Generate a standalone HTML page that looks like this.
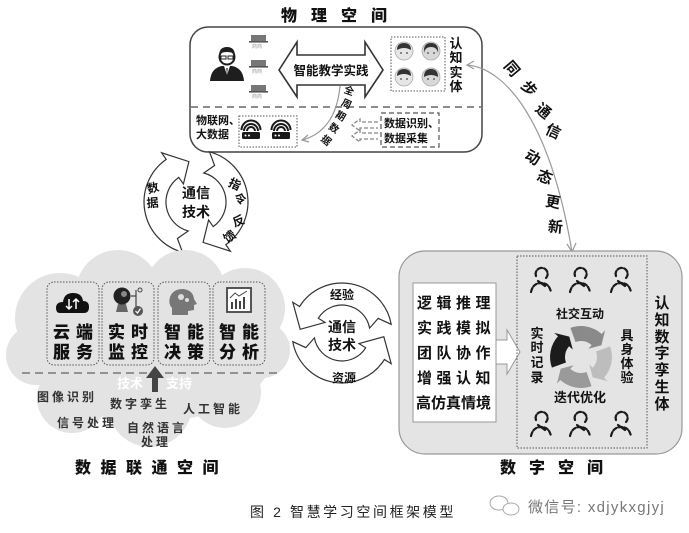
<!DOCTYPE html>
<html><head><meta charset="utf-8"><style>
html,body{margin:0;padding:0;background:#fff;}
svg{display:block;}
text{font-family:"Liberation Sans","Noto Sans CJK SC",sans-serif;}
.b{font-weight:bold;}
</style></head><body>
<svg width="689" height="533" viewBox="0 0 689 533" xmlns="http://www.w3.org/2000/svg">
<rect width="689" height="533" fill="#fff"/>

<!-- ===== Physical space ===== -->
<text x="281" y="21" font-size="16" font-weight="900" letter-spacing="14" fill="#111">物理空间</text>
<rect x="190" y="27" width="292" height="125" rx="18" fill="#fff" stroke="#444" stroke-width="1.5"/>
<line x1="191" y1="107" x2="481" y2="107" stroke="#666" stroke-width="1.5" stroke-dasharray="7 5"/>

<!-- teacher -->
<path d="M210,81 Q211,68 222,66 L232,66 Q243,68 244,81 Z" fill="#1e1e1e"/>
<path d="M224,66 L227,75 L230,66 Z" fill="#fff"/>
<path d="M226.3,68 L227,76 L227.7,68 Z" fill="#1e1e1e"/>
<circle cx="227" cy="57" r="7.5" fill="#fff" stroke="#1e1e1e" stroke-width="2"/>
<path d="M219,56 Q219,47 227,47 Q235,47 235,56 L233,53 Q227,51 221,53 Z" fill="#1e1e1e"/>
<rect x="221" y="56" width="5" height="3" fill="none" stroke="#1e1e1e" stroke-width="1"/>
<rect x="228" y="56" width="5" height="3" fill="none" stroke="#1e1e1e" stroke-width="1"/>
<!-- laptops -->
<g fill="#777">
<rect x="251" y="35" width="15" height="6"/><rect x="249" y="41" width="19" height="1.6" fill="#555"/>
<rect x="251" y="60" width="15" height="6"/><rect x="249" y="66" width="19" height="1.6" fill="#555"/>
<rect x="251" y="85" width="15" height="6"/><rect x="249" y="91" width="19" height="1.6" fill="#555"/>
</g>
<g font-size="5" fill="#999"><text x="252" y="48">商商</text><text x="252" y="73">商商</text><text x="252" y="98">商商</text></g>

<!-- double arrow -->
<polygon points="279,70 297,42 297,55 365,55 365,42 383,70 365,97 365,85 297,85 297,97" fill="#fff" stroke="#333" stroke-width="1.6"/>
<text x="331" y="75" font-size="12.5" class="b" text-anchor="middle" fill="#111">智能教学实践</text>

<!-- faces -->
<rect x="391" y="37" width="54" height="54" fill="none" stroke="#555" stroke-width="1" stroke-dasharray="1.5 1.5"/>
<g stroke="#aaa" stroke-width="0.8">
<circle cx="404" cy="51" r="9" fill="#e6e6e6"/><circle cx="431" cy="51" r="9" fill="#d8d8d8"/>
<circle cx="404" cy="77" r="9" fill="#e6e6e6"/><circle cx="431" cy="77" r="9" fill="#d8d8d8"/>
</g>
<g fill="#333">
<path d="M397,50 Q397,43 404,43 Q411,43 411,50 Q404,46 397,50 Z"/>
<path d="M424,53 Q423,43 431,43 Q439,43 438,53 Q437,47 431,47 Q425,47 424,53 Z"/>
<path d="M397,76 Q397,69 404,69 Q411,69 411,76 Q404,72 397,76 Z"/>
<path d="M424,77 Q424,69 431,69 Q438,69 438,77 Q431,73 424,77 Z"/>
</g>
<g fill="#444"><circle cx="401" cy="53" r="0.9"/><circle cx="407" cy="53" r="0.9"/><circle cx="428" cy="53" r="0.9"/><circle cx="434" cy="53" r="0.9"/><circle cx="401" cy="79" r="0.9"/><circle cx="407" cy="79" r="0.9"/><circle cx="428" cy="79" r="0.9"/><circle cx="434" cy="79" r="0.9"/></g>
<g font-size="13" class="b" fill="#111" text-anchor="middle">
<text x="456" y="48">认</text><text x="456" y="62">知</text><text x="456" y="77">实</text><text x="456" y="91">体</text>
</g>

<!-- lower physical -->
<g font-size="11" class="b" fill="#111"><text x="196" y="124">物联网、</text><text x="196" y="138">大数据</text></g>
<rect x="239" y="116" width="58" height="31" fill="none" stroke="#555" stroke-width="1" stroke-dasharray="1.5 1.5"/>
<g fill="#1a1a1a">
<rect x="242" y="132" width="18" height="7" rx="1.5"/><rect x="272" y="132" width="18" height="7" rx="1.5"/>
</g>
<g fill="#fff"><circle cx="245.5" cy="135.5" r="1"/><circle cx="249" cy="135.5" r="1"/><circle cx="275.5" cy="135.5" r="1"/><circle cx="279" cy="135.5" r="1"/></g>
<g fill="none" stroke="#1a1a1a" stroke-width="2">
<path d="M247,131 A4,4 0 0 1 255,131"/><path d="M244,131 A7,7 0 0 1 258,131"/><path d="M241.5,130 A9.5,9.5 0 0 1 260.5,130"/>
<path d="M277,131 A4,4 0 0 1 285,131"/><path d="M274,131 A7,7 0 0 1 288,131"/><path d="M271.5,130 A9.5,9.5 0 0 1 290.5,130"/>
</g>
<rect x="381" y="113" width="58" height="34" fill="none" stroke="#555" stroke-width="1.2" stroke-dasharray="5 3"/>
<g font-size="11" class="b" fill="#111"><text x="384" y="127">数据识别、</text><text x="384" y="142">数据采集</text></g>
<g fill="none" stroke="#888" stroke-width="1.3">
<path d="M378,122 L360,122 L360,119 L352,125 L360,131 L360,128 L378,128" stroke-dasharray="4 2"/>
<path d="M378,133 L360,133 L360,130 L352,136 L360,142 L360,139 L378,139" stroke-dasharray="4 2"/>
</g>
<!-- full cycle data arrow -->
<path d="M340,86 Q336,130 303,140" fill="none" stroke="#999" stroke-width="1.2"/>
<polyline points="308,135 302,140 309,142" fill="none" stroke="#999" stroke-width="1.2"/>
<g font-size="10" class="b" fill="#111" text-anchor="middle">
<text transform="translate(348,94) rotate(20)">全</text>
<text transform="translate(345,107) rotate(25)">周</text>
<text transform="translate(339,119) rotate(30)">期</text>
<text transform="translate(332,131) rotate(35)">数</text>
<text transform="translate(324,143) rotate(40)">据</text>
</g>

<!-- sync arrow -->
<path d="M467,65 C505,68 550,120 572,252" fill="none" stroke="#999" stroke-width="1.2"/>
<polyline points="474,61 467,65 474,69" fill="none" stroke="#999" stroke-width="1.2"/>
<polyline points="567,244 572,252 576,243" fill="none" stroke="#999" stroke-width="1.2"/>
<g font-size="15" class="b" fill="#111" text-anchor="middle">
<text transform="translate(508,72) rotate(50)">同</text>
<text transform="translate(525,92) rotate(50)">步</text>
<text transform="translate(540,115) rotate(40)">通</text>
<text transform="translate(551,136) rotate(25)">信</text>
<text transform="translate(530,162) rotate(30)">动</text>
<text transform="translate(543,182) rotate(20)">态</text>
<text transform="translate(552,207) rotate(10)">更</text>
<text transform="translate(555,232) rotate(5)">新</text>
</g>

<!-- ===== left cycle ===== -->
<g fill="#fff" stroke="#333" stroke-width="1.2">
<path d="M182.5,252.2 A52,52 0 0 1 166.2,159.4 L161.6,152.8 L188.9,161.6 L183.4,184.0 L178.8,177.4 A30,30 0 0 0 188.2,231.0 L177.4,238.5 Z"/>
<path d="M209.5,151.8 A52,52 0 0 1 225.8,244.6 L230.4,251.2 L203.1,242.4 L208.6,220.0 L213.2,226.6 A30,30 0 0 0 203.8,173.0 L214.6,165.5 Z"/>
</g>
<g class="b" fill="#111" text-anchor="middle">
<text x="196" y="198" font-size="14">通信</text>
<text x="196" y="217" font-size="14">技术</text>
<text font-size="12" transform="translate(154,192) rotate(-15)">数</text>
<text font-size="12" transform="translate(153,207) rotate(-5)">据</text>
<text font-size="12" transform="translate(233,188) rotate(25)">指</text>
<text font-size="12" transform="translate(239,203) rotate(15)">令</text>
<text font-size="12" transform="translate(240,225) rotate(-20)">反</text>
<text font-size="12" transform="translate(232,240) rotate(-35)">馈</text>
</g>

<!-- ===== cloud ===== -->
<g fill="#e3e3e3">
<circle cx="60" cy="318" r="45"/>
<circle cx="118" cy="292" r="42"/>
<circle cx="185" cy="290" r="40"/>
<circle cx="245" cy="308" r="40"/>
<circle cx="262" cy="350" r="28"/>
<circle cx="36" cy="355" r="30"/>
<circle cx="72" cy="398" r="35"/>
<circle cx="150" cy="405" r="42"/>
<circle cx="225" cy="392" r="36"/>
<ellipse cx="150" cy="350" rx="125" ry="72"/>
</g>
<!-- cards -->
<g fill="none" stroke="#555" stroke-width="1" stroke-dasharray="1.5 1.5">
<rect x="47" y="282" width="52" height="83" rx="7"/>
<rect x="102" y="282" width="52" height="83" rx="7"/>
<rect x="158" y="282" width="52" height="83" rx="7"/>
<rect x="213" y="282" width="52" height="83" rx="7"/>
</g>
<!-- icon 1 cloud -->
<path d="M60,313 Q56,313 56,308 Q56,302 63,302 Q64,293 73,293 Q82,293 83,301 Q89,301 89,307 Q89,313 84,313 Z" fill="#111"/>
<g stroke="#fff" stroke-width="1.5" fill="none"><path d="M69,299 L69,309 M66,306 L69,309 L72,306"/><path d="M76,309 L76,299 M73,302 L76,299 L79,302"/></g>
<!-- icon 2 webcam -->
<path d="M116,312 L118,304 L126,304 L128,312 Z" fill="#666"/>
<circle cx="122" cy="296" r="8.5" fill="#222"/>
<circle cx="124" cy="294" r="3" fill="#888"/>
<path d="M131,296 L136,296 M136,290 L136,307" stroke="#444" stroke-width="1.2" fill="none"/>
<circle cx="140" cy="290" r="2" fill="none" stroke="#444" stroke-width="1"/>
<circle cx="138" cy="311" r="5" fill="#555"/>
<path d="M135.5,311 L137.5,313 L140.5,308.5" stroke="#fff" stroke-width="1.2" fill="none"/>
<!-- icon 3 head -->
<path d="M172,315 L172,308 Q168,304 170,297 Q173,289 183,289 Q193,290 194,299 L197,304 L194,305 L194,310 L188,311 L188,315 Z" fill="#777"/>
<circle cx="181" cy="297" r="3" fill="#ddd"/><circle cx="187" cy="300" r="2" fill="#ddd"/>
<!-- icon 4 chart -->
<rect x="227" y="288" width="24" height="24" fill="#fff" stroke="#444" stroke-width="1.8"/>
<g fill="#444"><rect x="231" y="302" width="2" height="7"/><rect x="235" y="299" width="2" height="10"/><rect x="239" y="301" width="2" height="8"/><rect x="243" y="297" width="2" height="12"/></g>
<polyline points="230,298 235,293 239,296 247,291" fill="none" stroke="#444" stroke-width="1"/>
<!-- card text -->
<g font-size="17" font-weight="900" letter-spacing="6" fill="#111">
<text x="53" y="338">云端</text><text x="53" y="358">服务</text>
<text x="108" y="338">实时</text><text x="108" y="358">监控</text>
<text x="164" y="338">智能</text><text x="164" y="358">决策</text>
<text x="219" y="338">智能</text><text x="219" y="358">分析</text>
</g>
<line x1="22" y1="373" x2="282" y2="373" stroke="#777" stroke-width="1.5" stroke-dasharray="8 5"/>
<polygon points="152,392 152,378 146,378 155,366 164,378 158,378 158,392" fill="#444"/>
<g font-size="13" class="b" fill="#fff"><text x="117" y="388">技术</text><text x="166" y="388">支持</text></g>
<g font-size="12" class="b" fill="#333" letter-spacing="3">
<text x="37" y="401">图像识别</text>
<text x="110" y="408">数字孪生</text>
<text x="183" y="413">人工智能</text>
<text x="57" y="427">信号处理</text>
<text x="127" y="432">自然语言</text>
<text x="141" y="446">处理</text>
</g>
<text x="75" y="473" font-size="16" font-weight="900" letter-spacing="9.5" fill="#111">数据联通空间</text>

<!-- ===== middle cycle ===== -->
<g transform="translate(0,2)">
<g fill="#fff" stroke="#333" stroke-width="1.2">
<path d="M391.2,322.3 A50,50 0 0 0 299.6,304.5 L292.8,300.3 L300.2,327.3 L325.0,320.4 L318.3,316.2 A28,28 0 0 1 369.6,326.1 L378.2,316.4 Z"/>
<path d="M292.8,339.7 A50,50 0 0 0 384.4,357.5 L391.2,361.7 L383.8,334.7 L359.0,341.6 L365.7,345.8 A28,28 0 0 1 314.4,335.9 L305.8,345.6 Z"/>
</g>
<g class="b" fill="#111" text-anchor="middle">
<text x="342" y="297" font-size="12">经验</text>
<text x="342" y="330" font-size="14">通信</text>
<text x="342" y="348" font-size="14">技术</text>
<text x="344" y="380" font-size="12">资源</text>
</g>
</g>

<!-- ===== digital space ===== -->
<rect x="399" y="251" width="283" height="203" rx="26" fill="#e4e4e4" stroke="#999" stroke-width="1.2"/>
<rect x="413" y="283" width="83" height="139" fill="#fff" stroke="#999" stroke-width="1"/>
<g font-size="15" class="b" fill="#111">
<text x="417" y="308" letter-spacing="4.5">逻辑推理</text>
<text x="417" y="333" letter-spacing="4.5">实践模拟</text>
<text x="417" y="358" letter-spacing="4.5">团队协作</text>
<text x="417" y="383" letter-spacing="4.5">增强认知</text>
<text x="416" y="408">高仿真情境</text>
</g>
<polygon points="496,340 507,340 507,330 520,352 507,374 507,364 496,364" fill="#fff" stroke="#999" stroke-width="1"/>
<rect x="517" y="256" width="130" height="192" fill="none" stroke="#555" stroke-width="1" stroke-dasharray="1.5 1.5"/>
<!-- persons -->
<g fill="none" stroke="#1a1a1a" stroke-width="2.2" stroke-linecap="round">
<g transform="translate(541,270)"><path d="M-5,6 A6,6 0 1 1 5,8" stroke-dasharray="5 2"/><path d="M-10,22 Q-8,13 0,13 Q8,13 10,22" stroke-dasharray="4 2"/><path d="M-3,11 L4,16"/></g>
<g transform="translate(580,270)"><path d="M-5,6 A6,6 0 1 1 5,8" stroke-dasharray="5 2"/><path d="M-10,22 Q-8,13 0,13 Q8,13 10,22" stroke-dasharray="4 2"/><path d="M-3,11 L4,16"/></g>
<g transform="translate(621,270)"><path d="M-5,6 A6,6 0 1 1 5,8" stroke-dasharray="5 2"/><path d="M-10,22 Q-8,13 0,13 Q8,13 10,22" stroke-dasharray="4 2"/><path d="M-3,11 L4,16"/></g>
<g transform="translate(541,414)"><path d="M-5,6 A6,6 0 1 1 5,8" stroke-dasharray="5 2"/><path d="M-10,22 Q-8,13 0,13 Q8,13 10,22" stroke-dasharray="4 2"/><path d="M-3,11 L4,16"/></g>
<g transform="translate(580,414)"><path d="M-5,6 A6,6 0 1 1 5,8" stroke-dasharray="5 2"/><path d="M-10,22 Q-8,13 0,13 Q8,13 10,22" stroke-dasharray="4 2"/><path d="M-3,11 L4,16"/></g>
<g transform="translate(621,414)"><path d="M-5,6 A6,6 0 1 1 5,8" stroke-dasharray="5 2"/><path d="M-10,22 Q-8,13 0,13 Q8,13 10,22" stroke-dasharray="4 2"/><path d="M-3,11 L4,16"/></g>
</g>
<!-- cycle -->
<path d="M551.9,367.6 A31,31 0 0 1 558.0,336.3 L554.2,332.9 L569.3,336.6 L572.8,349.6 L569.1,346.3 A16,16 0 0 0 566.0,362.5 Z" fill="#1c1c1c"/>
<path d="M570.4,327.9 A31,31 0 0 1 601.7,334.0 L605.1,330.3 L601.4,345.3 L588.4,348.8 L591.7,345.1 A16,16 0 0 0 575.5,342.0 Z" fill="#8a8a8a"/>
<path d="M610.1,346.4 A31,31 0 0 1 604.0,377.7 L607.8,381.1 L592.8,377.4 L589.2,364.4 L592.9,367.7 A16,16 0 0 0 596.0,351.5 Z" fill="#bdbdbd"/>
<path d="M591.6,386.1 A31,31 0 0 1 560.3,380.0 L556.9,383.8 L560.7,368.8 L573.6,365.2 L570.3,368.9 A16,16 0 0 0 586.5,372.0 Z" fill="#9a9a9a"/>
<g class="b" fill="#111" text-anchor="middle">
<text x="580" y="318" font-size="12">社交互动</text>
<text x="580" y="402" font-size="13">迭代优化</text>
<g font-size="13"><text x="537" y="338">实</text><text x="537" y="352">时</text><text x="537" y="367">记</text><text x="537" y="382">录</text></g>
<g font-size="13"><text x="627" y="340">具</text><text x="627" y="354">身</text><text x="627" y="368">体</text><text x="627" y="382">验</text></g>
<g font-size="15"><text x="662" y="308">认</text><text x="662" y="325">知</text><text x="662" y="342">数</text><text x="662" y="358">字</text><text x="662" y="375">孪</text><text x="662" y="392">生</text><text x="662" y="409">体</text></g>
</g>
<text x="500" y="473" font-size="16" font-weight="900" letter-spacing="13" fill="#111">数字空间</text>

<!-- ===== caption ===== -->
<text x="250" y="517" font-size="14" fill="#222" letter-spacing="2.6">图 2  智慧学习空间框架模型</text>
<g fill="none" stroke="#aaa" stroke-width="1">
<ellipse cx="499" cy="503" rx="9" ry="7"/>
<ellipse cx="511" cy="509" rx="8" ry="6" fill="#fff"/>
</g>
<text x="528" y="512" font-size="15" fill="#777" letter-spacing="1.3">微信号: xdjykxgjyj</text>
</svg>
</body></html>
